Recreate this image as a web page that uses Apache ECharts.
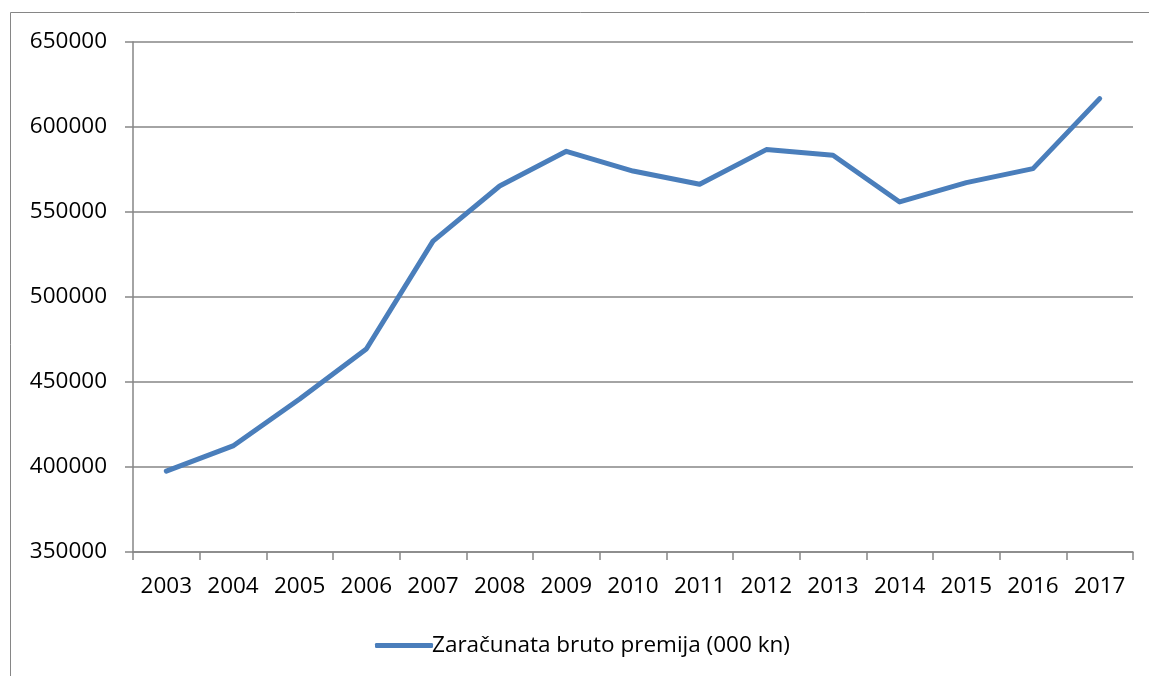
<!DOCTYPE html>
<html>
<head>
<meta charset="utf-8">
<script src="https://cdn.jsdelivr.net/npm/echarts@6/dist/echarts.min.js"></script>
<style>html,body{margin:0;padding:0;background:#fff}#c{width:1149px;height:676px}</style>
</head>
<body>
<div id="c"></div>
<script>
var categories = ['2003','2004','2005','2006','2007','2008','2009','2010','2011','2012','2013','2014','2015','2016','2017'];
var premija = [397600, 412400, 440000, 469400, 532900, 565300, 585700, 574100, 566300, 586700, 583400, 555900, 567300, 575500, 616700];
var seriesName = 'Zaračunata bruto premija (000 kn)';
var yMin = 350000, yMax = 650000, yStep = 50000;

var chart = echarts.init(document.getElementById('c'));
var font = '"Open Sans", sans-serif';
chart.setOption({
  animation: false,
  backgroundColor: '#fff',
  graphic: [{
    type: 'rect', silent: true,
    shape: {x: 10.5, y: 12.5, width: 1200, height: 700},
    style: {fill: 'none', stroke: '#868686', lineWidth: 1}
  }],
  grid: {left: 133, right: 16, top: 42, bottom: 124},
  legend: {
    left: 370, top: 629,
    icon: 'roundRect',
    itemWidth: 58, itemHeight: 5, itemGap: 10,
    textStyle: {fontFamily: font, fontSize: 22.5, color: '#000', padding: [0,0,0,-6]},
    data: [seriesName]
  },
  xAxis: {
    type: 'category', data: categories, boundaryGap: true,
    axisLine: {lineStyle: {color: '#868686', width: 1.5}},
    axisTick: {show: true, length: 8, interval: 0, alignWithLabel: false, lineStyle: {color: '#868686', width: 1.5}},
    axisLabel: {interval: 0, hideOverlap: false, margin: 23, fontFamily: font, fontSize: 22.5, color: '#000'}
  },
  yAxis: {
    type: 'value', min: yMin, max: yMax, interval: yStep,
    axisLine: {show: true, lineStyle: {color: '#868686', width: 1.5}},
    axisTick: {show: true, length: 8, lineStyle: {color: '#868686', width: 1.5}},
    splitLine: {show: true, lineStyle: {color: '#868686', width: 1.5}},
    axisLabel: {margin: 26, fontFamily: font, fontSize: 22.5, color: '#000', formatter: function (v) { return String(v); }}
  },
  series: [{
    name: seriesName, type: 'line', data: premija,
    symbol: 'none',
    lineStyle: {color: '#4A7EBB', width: 5, cap: 'round', join: 'round'},
    itemStyle: {color: '#4A7EBB'}
  }]
});
</script>
</body>
</html>
